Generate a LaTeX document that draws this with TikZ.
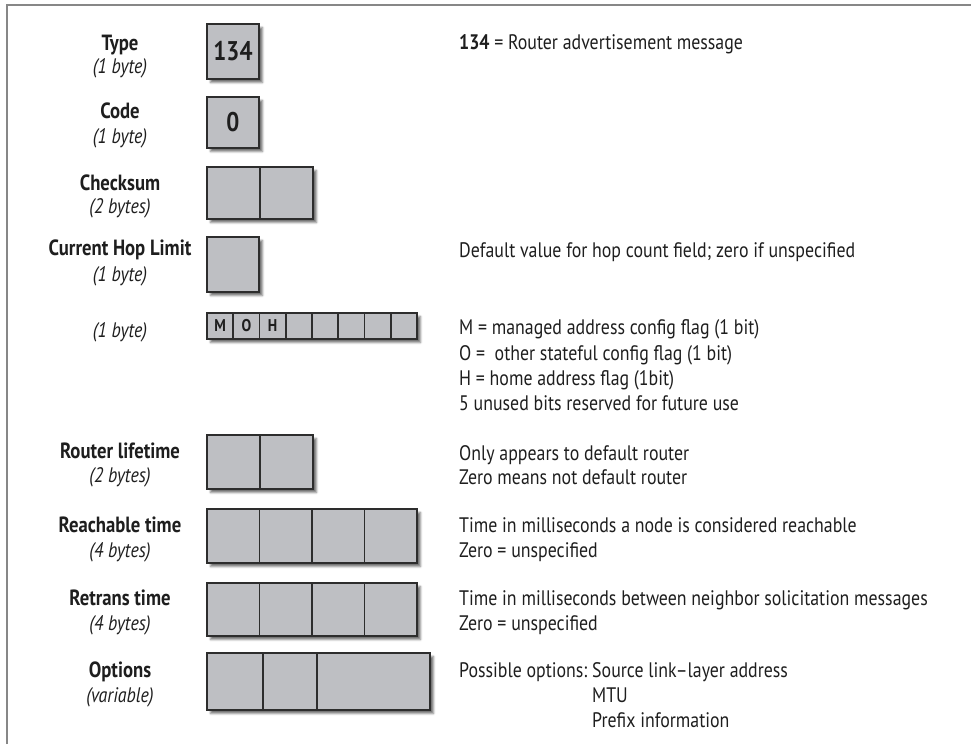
\documentclass[tikz,border=0pt]{standalone}
\usepackage{fontspec}
\setmainfont[FakeStretch=0.85]{PT Sans}
\usetikzlibrary{calc,shadows.blur}
\definecolor{cellfill}{RGB}{190,191,195}
\definecolor{boxline}{RGB}{45,45,45}
\definecolor{framegray}{RGB}{135,135,135}
\definecolor{ink}{RGB}{30,30,30}
\tikzset{
  field/.style={rectangle, draw=boxline, line width=1.6pt, fill=cellfill,
    inner sep=0pt, outer sep=0pt, anchor=north west,
    blur shadow={shadow xshift=3.5pt, shadow yshift=-3.5pt,
      shadow blur radius=2pt, shadow opacity=55}},
  divider/.style={draw=boxline, line width=1.6pt},
  fname/.style={anchor=base, inner sep=0pt, text=ink,
    font=\fontsize{22}{26}\selectfont\bfseries},
  fsize/.style={anchor=base, inner sep=0pt, text=ink,
    font=\fontsize{21}{25}\selectfont\itshape},
  note/.style={anchor=base west, inner sep=0pt, text=ink,
    font=\fontsize{21}{25}\selectfont},
  boxnum/.style={inner sep=0pt, text=ink, font=\fontsize{27}{27}\selectfont\bfseries},
  flagbit/.style={inner sep=0pt, text=ink, font=\fontsize{17}{17}\selectfont\bfseries},
}
\begin{document}
\begin{tikzpicture}[x=1pt,y=-1pt]
\useasboundingbox (0,0) rectangle (971,744);
% outer frame (top and left edges)
\draw[framegray, line width=2pt] (7,744) -- (7,5) -- (971,5);

% ---- field boxes ----
\node[field, minimum width=52pt, minimum height=55pt] (type) at (207,24) {};
\node[boxnum] (typeval) at (type.center) {134};

\node[field, minimum width=52pt, minimum height=51pt] (code) at (207,97) {};
\node[boxnum] (codeval) at (code.center) {0};

\node[field, minimum width=106pt, minimum height=52pt] (chk) at (207,167) {};
\draw[divider] ($(chk.north west)!0.5!(chk.north east)$) -- ($(chk.south west)!0.5!(chk.south east)$);

\node[field, minimum width=52pt, minimum height=55pt] (hop) at (207,237) {};

\node[field, minimum width=210pt, minimum height=26pt] (flags) at (207,313) {};
\foreach \i in {1,...,7}
  \draw[divider] ($(flags.north west)!\i/8!(flags.north east)$) -- ($(flags.south west)!\i/8!(flags.south east)$);
\foreach \b/\i in {M/0,O/1,H/2}
  \node[flagbit] (bit\b) at ($(flags.west)!{(\i+0.5)/8}!(flags.east)$) {\b};

\node[field, minimum width=106pt, minimum height=54pt] (life) at (207,435) {};
\draw[divider] ($(life.north west)!0.5!(life.north east)$) -- ($(life.south west)!0.5!(life.south east)$);

\node[field, minimum width=210pt, minimum height=54pt] (reach) at (207,509) {};
\foreach \f in {0.25,0.5,0.75}
  \draw[divider] ($(reach.north west)!\f!(reach.north east)$) -- ($(reach.south west)!\f!(reach.south east)$);

\node[field, minimum width=210pt, minimum height=53pt] (retrans) at (207,583) {};
\foreach \f in {0.25,0.5,0.75}
  \draw[divider] ($(retrans.north west)!\f!(retrans.north east)$) -- ($(retrans.south west)!\f!(retrans.south east)$);

\node[field, minimum width=223pt, minimum height=57pt] (opts) at (207,653) {};
\foreach \f in {0.251,0.493}
  \draw[divider] ($(opts.north west)!\f!(opts.north east)$) -- ($(opts.south west)!\f!(opts.south east)$);

% ---- field names ----
\node[fname] (ltype) at (120,50) {Type};
\node[fsize] (stype) at (120,73) {(1 byte)};
\node[fname] (lcode) at (120,118) {Code};
\node[fsize] (scode) at (120,143) {(1 byte)};
\node[fname] (lchk) at (120,190) {Checksum};
\node[fsize] (schk) at (120,213) {(2 bytes)};
\node[fname] (lhop) at (120,255) {Current Hop Limit};
\node[fsize] (shop) at (120,281) {(1 byte)};
\node[fsize] (sflags) at (120,337) {(1 byte)};
\node[fname] (llife) at (120,458) {Router lifetime};
\node[fsize] (slife) at (120,482) {(2 bytes)};
\node[fname] (lreach) at (120,532) {Reachable time};
\node[fsize] (sreach) at (120,557) {(4 bytes)};
\node[fname] (lretrans) at (120,605) {Retrans time};
\node[fsize] (sretrans) at (120,630) {(4 bytes)};
\node[fname] (lopts) at (120,677) {Options};
\node[fsize] (sopts) at (120,702) {(variable)};

% ---- descriptions ----
\node[note] (n1) at (459,49) {\textbf{134} = Router advertisement message};
\node[note] (n2) at (459,257) {Default value for hop count field; zero if unspecified};
\node[note] (n3) at (459,334) {M = managed address config flag (1 bit)};
\node[note] (n4) at (459,360) {O =\ \ other stateful config flag (1 bit)};
\node[note] (n5) at (459,385) {H = home address flag (1bit)};
\node[note] (n6) at (459,410) {5 unused bits reserved for future use};
\node[note] (n7) at (459,460) {Only appears to default router};
\node[note] (n8) at (459,484) {Zero means not default router};
\node[note] (n9) at (459,532) {Time in milliseconds a node is considered reachable};
\node[note] (n10) at (459,557) {Zero = unspecified};
\node[note] (n11) at (459,605) {Time in milliseconds between neighbor solicitation messages};
\node[note] (n12) at (459,630) {Zero = unspecified};
\node[note] (n13) at (459,677) {Possible options:};
\node[note] (n14) at (592,677) {Source link–layer address};
\node[note] (n15) at (592,702) {MTU};
\node[note] (n16) at (592,727) {Prefix information};
\end{tikzpicture}
\end{document}
